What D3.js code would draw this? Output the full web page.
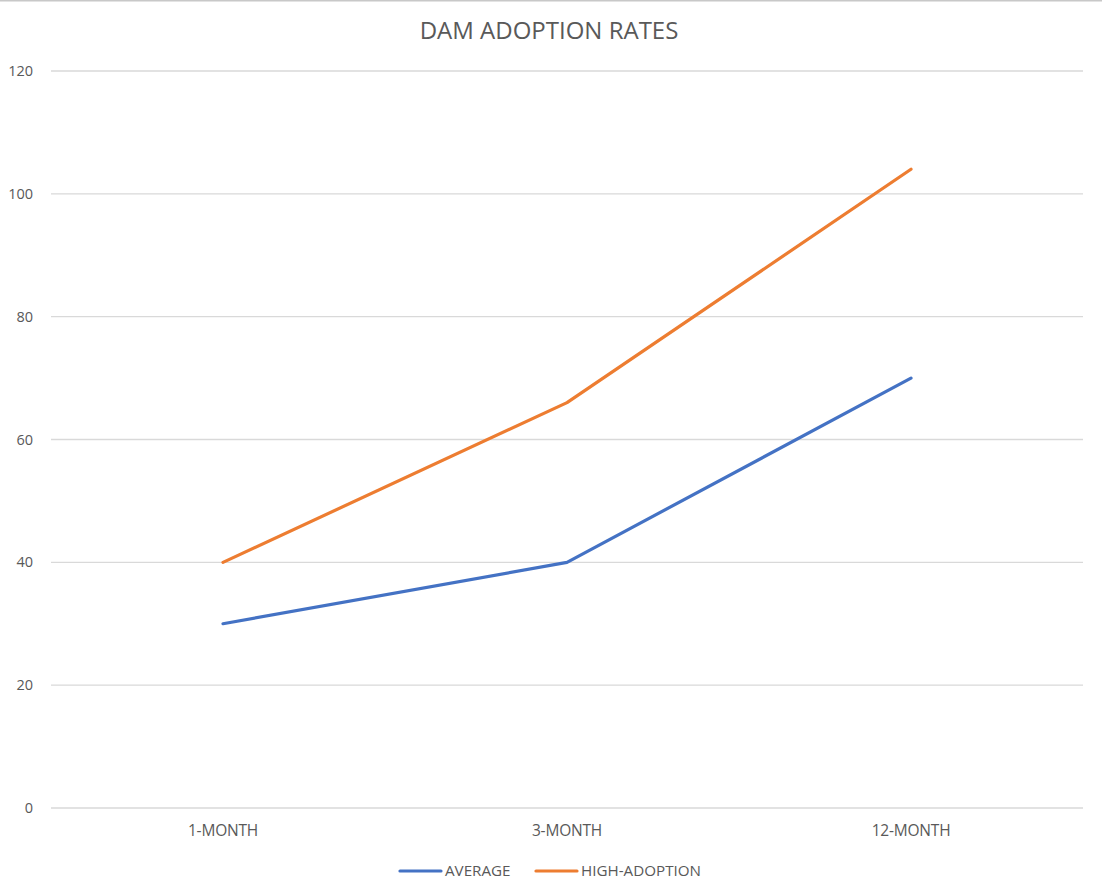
<!DOCTYPE html>
<html>
<head>
<meta charset="utf-8">
<script src="https://cdn.jsdelivr.net/npm/d3@7"></script>
<style>
  body { margin: 0; background: #fff; }
  text { font-family: "Open Sans", "Liberation Sans", sans-serif; fill: #595959; }
</style>
</head>
<body>
<div id="chart"></div>
<script>
// data
const categories = ["1-MONTH", "3-MONTH", "12-MONTH"];
const averageValues = [30, 40, 70];
const highAdoptionValues = [40, 66, 104];
const yTicks = [0, 20, 40, 60, 80, 100, 120];
const seriesNames = ["AVERAGE", "HIGH-ADOPTION"];

const width = 1102, height = 896;
const margin = { top: 71, right: 19, bottom: 88, left: 51 };

const svg = d3.select("#chart").append("svg").attr("width", width).attr("height", height);

// faint frame line along the top edge
svg.append("line").attr("x1", 0).attr("x2", width).attr("y1", 0.5).attr("y2", 0.5)
  .attr("stroke", "#c8c8c8").attr("stroke-width", 2);

svg.append("text").attr("x", width / 2 - 2).attr("y", 39).attr("text-anchor", "middle")
  .attr("font-size", 24).text("DAM ADOPTION RATES");

const x = d3.scalePoint().domain(categories).range([margin.left, width - margin.right]).padding(0.5);
const y = d3.scaleLinear().domain([0, 120]).range([height - margin.bottom, margin.top]);

// gridlines
svg.append("g").selectAll("line").data(yTicks).join("line")
  .attr("x1", margin.left).attr("x2", width - margin.right)
  .attr("y1", d => y(d)).attr("y2", d => y(d))
  .attr("stroke", "#d9d9d9").attr("stroke-width", 1.3);

// y labels
svg.append("g").selectAll("text").data(yTicks).join("text")
  .attr("x", 33).attr("y", d => y(d)).attr("dy", "0.35em").attr("text-anchor", "end")
  .attr("font-size", 14.5).text(d => d);

// x labels
svg.append("g").selectAll("text").data(categories).join("text")
  .attr("x", d => x(d)).attr("y", y(0) + 28).attr("text-anchor", "middle")
  .attr("font-size", 15.5).attr("letter-spacing", -0.2).text(d => d);

const series = [
  { name: seriesNames[0], values: averageValues, color: "#4472C4" },
  { name: seriesNames[1], values: highAdoptionValues, color: "#ED7D31" }
];

const line = d3.line().x((d, i) => x(categories[i])).y(d => y(d));

svg.append("g").selectAll("path").data(series).join("path")
  .attr("d", d => line(d.values)).attr("fill", "none")
  .attr("stroke", d => d.color).attr("stroke-width", 3.2)
  .attr("stroke-linejoin", "round").attr("stroke-linecap", "round");

// legend
const legendX = [400, 536];
const lg = svg.append("g").selectAll("g").data(series).join("g")
  .attr("transform", (d, i) => `translate(${legendX[i]}, 871)`);
lg.append("line").attr("x1", 0).attr("x2", 41).attr("y1", 0).attr("y2", 0)
  .attr("stroke", d => d.color).attr("stroke-width", 3.2).attr("stroke-linecap", "round");
lg.append("text").attr("x", 45).attr("dy", "0.35em").attr("font-size", 15.2).text(d => d.name);
</script>
</body>
</html>
